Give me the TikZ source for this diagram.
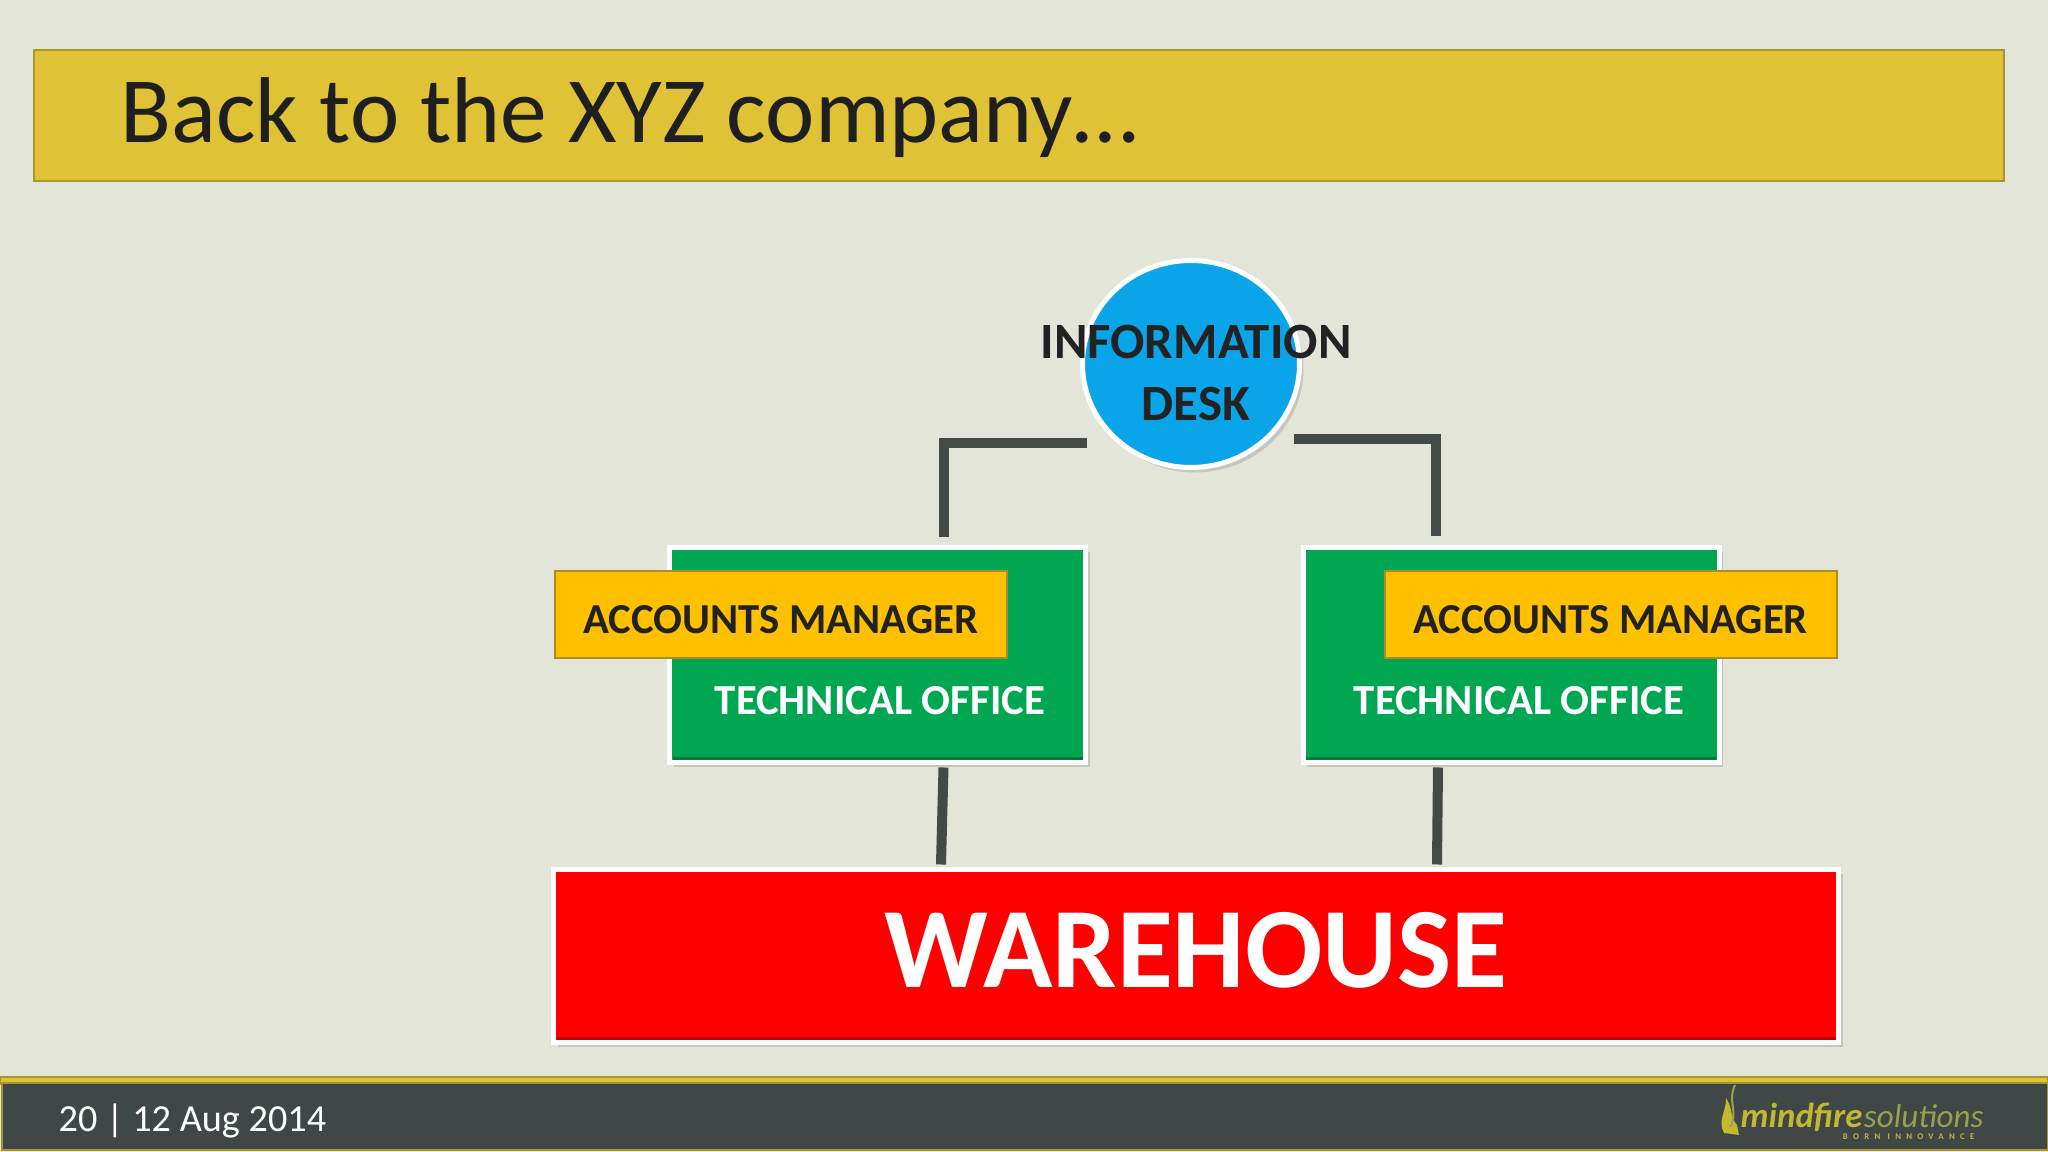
\documentclass[tikz,border=0pt]{standalone}
\usepackage{fontspec}
\setmainfont{Carlito}
\usetikzlibrary{shapes.geometric,shadows}
\definecolor{slidebg}{HTML}{E3E5D9}
\definecolor{titlegold}{HTML}{DFC235}
\definecolor{rimgold}{HTML}{A8962E}
\definecolor{footgrey}{HTML}{3F4747}
\definecolor{linkgrey}{HTML}{434A45}
\definecolor{deskblue}{HTML}{0AA5E8}
\definecolor{officegreen}{HTML}{00A651}
\definecolor{managergold}{HTML}{FFC000}
\definecolor{managerrim}{HTML}{AE8C24}
\definecolor{inkdark}{HTML}{222222}
\definecolor{logogold}{HTML}{C4B82E}
\definecolor{logodim}{HTML}{9CA04A}
\tikzset{
    link/.style={draw=linkgrey, line width=0.1cm},
    raised/.style={draw=white, line width=0.05cm, inner sep=0pt, outer sep=0pt,
        drop shadow={shadow xshift=0.04cm, shadow yshift=-0.05cm, opacity=0.3}},
    officebox/.style={raised, fill=officegreen, minimum width=4.16cm, minimum height=2.15cm},
    managerbox/.style={draw=managerrim, fill=managergold, line width=0.02cm, inner sep=0pt, outer sep=0pt,
        minimum width=4.52cm, minimum height=0.87cm, text height=0.39cm, text depth=0cm,
        text=inkdark, font=\bfseries\fontsize{12.16}{13}\selectfont},
    officetext/.style={text=white, font=\bfseries\fontsize{12.18}{13}\selectfont},
}
\begin{document}
\begin{tikzpicture}
    \useasboundingbox (0,0) rectangle (20.48,11.52);
    \fill[slidebg] (0,0) rectangle (20.48,11.52);

    \node[draw=rimgold, fill=titlegold, line width=0.02cm, minimum width=19.7cm, minimum height=1.31cm, inner sep=0pt] (titlebar) at (10.19,10.365) {};
    \node[anchor=west, text=inkdark!90!black, inner sep=0pt, font=\fontsize{26.6}{30}\selectfont] (title) at (1.2,10.34) {Back to the XYZ company…};

    \node[ellipse, raised, fill=deskblue, minimum width=2.17cm, minimum height=2.07cm] (desk) at (11.91,7.88) {};

    \node[officebox] (officeL) at (8.775,4.97) {};
    \node[officebox] (officeR) at (15.11,4.97) {};
    \node[raised, fill=red, minimum width=12.85cm, minimum height=1.73cm] (warehouse) at (11.96,1.96) {};

    % bevel on the lower edges
    \foreach \boxname/\boxcolor in {officeL/officegreen, officeR/officegreen, warehouse/red} {
        \draw[\boxcolor!75!black, line width=0.03cm] ([xshift=0.03cm,yshift=0.04cm]\boxname.south west) -- ([xshift=-0.03cm,yshift=0.04cm]\boxname.south east);
    }

    \draw[link, shorten <=0.27cm] ([yshift=-0.06cm]desk.south west) -| ([xshift=0.66cm,yshift=0.1cm]officeL.north);
    \draw[link, shorten <=0.26cm] ([yshift=-0.02cm]desk.south east) -| ([xshift=-0.75cm,yshift=0.11cm]officeR.north);
    \draw[link] ([xshift=0.66cm,yshift=-0.05cm]officeL.south) -- ([xshift=-2.55cm,yshift=0.05cm]warehouse.north);
    \draw[link] ([xshift=-0.73cm,yshift=-0.05cm]officeR.south) -- ([xshift=2.41cm,yshift=0.05cm]warehouse.north);

    \node[managerbox] (managerL) at (7.81,5.375) {ACCOUNTS MANAGER};
    \node[managerbox] (managerR) at (16.105,5.375) {ACCOUNTS MANAGER};

    \node[officetext] (techL) at (8.8,4.51) {TECHNICAL OFFICE};
    \node[officetext] (techR) at (15.19,4.51) {TECHNICAL OFFICE};

    \node[text=inkdark, align=center, inner sep=0pt, font=\bfseries\fontsize{14.47}{17.4}\selectfont] (desktext) at (11.96,7.79) {INFORMATION\\DESK};
    \node[text=white, inner sep=0pt, font=\bfseries\fontsize{32.6}{36}\selectfont] (warehousetext) at (11.96,2.02) {WAREHOUSE};

    % footer
    \draw[rimgold, fill=titlegold, line width=0.02cm] (0,0.68) rectangle (20.48,0.75);
    \node[draw=rimgold, fill=footgrey, line width=0.02cm, minimum width=20.46cm, minimum height=0.67cm, inner sep=0pt, anchor=south west] (footer) at (0.01,0.01) {};
    \node[anchor=west, text=white, inner sep=0pt, font=\fontsize{10.88}{12}\selectfont] (pagedate) at (0.58,0.31) {20 | 12 Aug 2014};

    % logo
    \fill[logogold] (17.24,0.19) .. controls (17.17,0.32) and (17.27,0.42) .. (17.26,0.54) .. controls (17.33,0.44) and (17.3,0.34) .. (17.37,0.27) -- (17.39,0.17) -- cycle;
    \draw[logodim, line width=0.02cm] (17.3,0.25) .. controls (17.39,0.38) and (17.27,0.5) .. (17.35,0.67);
    \node[anchor=base west, text=logogold, inner sep=0pt, font=\bfseries\itshape\fontsize{9.9}{12}\selectfont] (logofire) at (17.4,0.24) {mindfire};
    \node[anchor=base west, text=logodim, inner sep=0pt, font=\itshape\fontsize{9.4}{12}\selectfont] (logosol) at (logofire.base east) {solutions};
    \node[anchor=base east, text=logogold, inner sep=0pt, font=\bfseries\fontsize{2.5}{3}\selectfont\addfontfeature{LetterSpace=60}] (logotag) at (19.75,0.12) {BORN INNOVANCE};
\end{tikzpicture}
\end{document}
